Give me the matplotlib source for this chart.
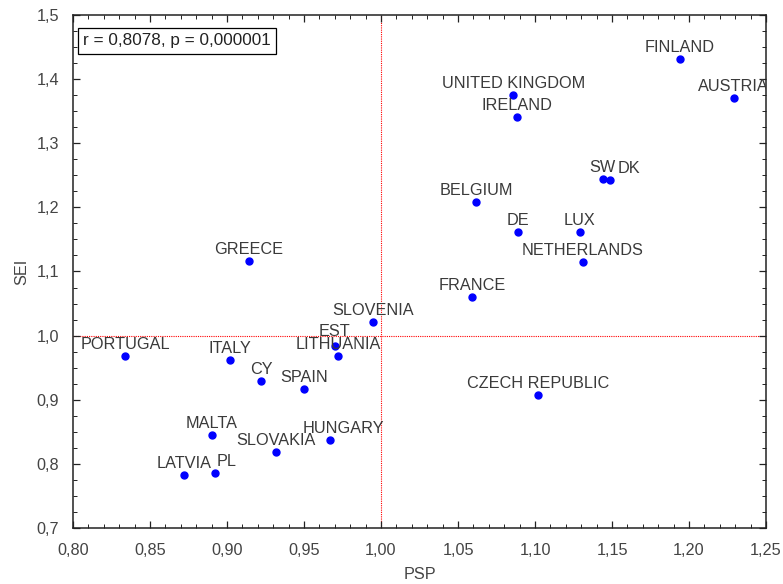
import matplotlib
matplotlib.use("Agg")
import matplotlib.pyplot as plt
from matplotlib.ticker import MultipleLocator, FuncFormatter

countries = ["FINLAND", "AUSTRIA", "UNITED KINGDOM", "IRELAND", "SW", "DK",
             "BELGIUM", "DE", "LUX", "NETHERLANDS", "GREECE", "FRANCE",
             "SLOVENIA", "EST", "LITHUANIA", "PORTUGAL", "ITALY", "CY",
             "SPAIN", "CZECH REPUBLIC", "MALTA", "HUNGARY", "SLOVAKIA",
             "LATVIA", "PL"]
psp = [1.194, 1.229, 1.086, 1.088, 1.144, 1.149,
       1.062, 1.089, 1.129, 1.131, 0.914, 1.059,
       0.995, 0.970, 0.972, 0.834, 0.902, 0.922,
       0.950, 1.102, 0.890, 0.967, 0.932,
       0.872, 0.892]
sei = [1.431, 1.370, 1.375, 1.341, 1.244, 1.242,
       1.208, 1.162, 1.162, 1.115, 1.116, 1.060,
       1.021, 0.984, 0.968, 0.968, 0.962, 0.930,
       0.917, 0.907, 0.845, 0.837, 0.818,
       0.782, 0.785]
stat_text = "r = 0,8078, p = 0,000001"
x_label = "PSP"
y_label = "SEI"

# label offsets in pixels (dx, dy) for labels not centred above the point
label_shift = {"DK": (18, 7), "HUNGARY": (13, 7), "PL": (12, 7), "EST": (0, 10)}

plt.rcParams['font.family'] = ['Liberation Sans', 'DejaVu Sans']
fig = plt.figure(figsize=(7.83, 5.84), dpi=100)
ax = fig.add_axes([73/783, 1 - 528/584, 693/783, 513/584])

ax.axvline(1.0, color='red', lw=0.8, ls=(0, (1, 1)), zorder=1)
ax.axhline(1.0, color='red', lw=0.8, ls=(0, (1, 1)), zorder=1)

ax.plot(psp, sei, 'o', color='#0000ff', ms=5, zorder=3)

txtcol = '#3a3a3a'
for name, x, y in zip(countries, psp, sei):
    dx, dy = label_shift.get(name, (0, 7))
    t = ax.annotate(name, (x, y), xytext=(dx, dy), textcoords='offset pixels',
                    ha='center', va='baseline', fontsize=11.7, color=txtcol,
                    annotation_clip=False, zorder=4)
    t.set_clip_box(ax.bbox)
    t.set_clip_on(True)

ax.text(0.014, 0.964, stat_text, transform=ax.transAxes, ha='left', va='top',
        fontsize=12.3, color='#222222',
        bbox=dict(boxstyle='square,pad=0.3', fc='white', ec='black', lw=0.9))

ax.set_xlim(0.80, 1.25)
ax.set_ylim(0.7, 1.5)
ax.xaxis.set_major_locator(MultipleLocator(0.05))
ax.xaxis.set_minor_locator(MultipleLocator(0.01))
ax.yaxis.set_major_locator(MultipleLocator(0.1))
ax.yaxis.set_minor_locator(MultipleLocator(0.025))
ax.xaxis.set_major_formatter(FuncFormatter(lambda v, p: f"{v:.2f}".replace('.', ',')))
ax.yaxis.set_major_formatter(FuncFormatter(lambda v, p: f"{v:.1f}".replace('.', ',')))
ax.tick_params(which='both', direction='in', top=True, right=True,
               labelsize=11.7, labelcolor='#444444', color='#222222')
ax.tick_params(axis='x', which='major', length=5, width=0.9, pad=11)
ax.tick_params(axis='y', which='major', length=5, width=0.9, pad=10)
ax.tick_params(which='minor', length=3, width=0.7)
for s in ax.spines.values():
    s.set_color('#222222')
    s.set_linewidth(1.1)

ax.set_xlabel(x_label, fontsize=11.7, color='#444444')
ax.set_ylabel(y_label, fontsize=11.7, color='#444444')
ax.xaxis.set_label_coords(0.5, -0.076)
ax.yaxis.set_label_coords(-0.063, 0.5)

fig.savefig("out.png", dpi=100)
